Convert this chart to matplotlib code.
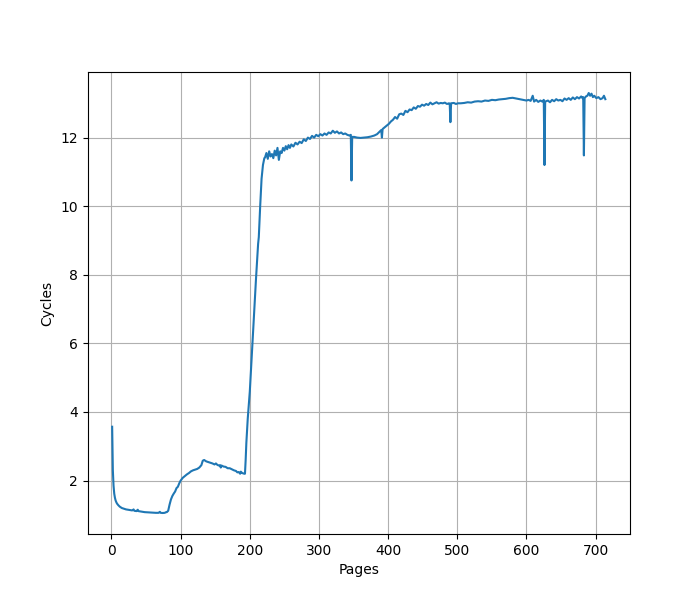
import matplotlib
matplotlib.use("Agg")
import matplotlib.pyplot as plt

pages = [1, 2, 3, 4, 5, 6, 7, 8, 10, 12, 15, 18, 21, 24, 27, 30, 32, 33, 36, 38, 39, 42, 45, 48, 52, 56, 60, 64, 68, 70, 71, 74, 77, 79,
         80, 82, 84, 86, 88, 90, 92, 94, 96, 98, 100, 103, 106, 109, 112, 115, 118, 121, 124, 127, 130, 132, 134, 137, 140, 143, 146, 149,
         151, 153, 155, 157, 158, 159, 162, 165, 168, 171, 174, 177, 180, 182, 184, 186, 187, 189, 192,
         193, 194, 195, 197, 200, 203, 206, 209, 212, 213, 215, 217, 219, 221,
         222, 224, 226, 228, 230, 232, 234, 236, 238, 240, 242, 244, 246, 248, 250, 252, 254, 256, 258, 260, 263, 266, 269, 272, 275, 278,
         281, 284, 287, 290, 293, 296, 299, 302, 305, 308, 311, 314, 317, 320, 323, 326, 329, 332, 335, 338, 341, 344, 346, 347, 348, 351,
         355, 360, 365, 370, 375, 380, 384, 388, 390, 391, 392, 395, 398, 401, 404, 407, 410, 413, 416, 419, 422, 425, 428, 431, 434, 437,
         440, 443, 446, 449, 452, 455, 458, 461, 464, 467, 470, 473, 476, 479, 482, 485, 488, 489, 490, 491, 495, 498, 501, 505, 510, 515,
         520, 525, 530, 535, 540, 545, 550, 555, 560, 565, 570, 575, 580, 585, 590, 595, 600, 603, 606, 609, 611, 614, 617, 620, 623, 625,
         626, 627, 631, 634, 637, 640, 643, 646, 649, 652, 655, 658, 661, 664, 667, 670, 673, 676, 679, 681, 682, 683, 684, 686, 688, 690,
         692, 694, 696, 698, 701, 704, 707, 710, 712, 714]

cycles = [3.57, 2.3, 1.85, 1.62, 1.5, 1.42, 1.37, 1.33, 1.28, 1.24, 1.2, 1.18, 1.16, 1.15, 1.14, 1.13, 1.16, 1.12, 1.11, 1.15, 1.11, 1.10, 1.09, 1.08, 1.075, 1.07, 1.065, 1.06, 1.06, 1.09, 1.06, 1.055, 1.06, 1.08,
          1.08, 1.12, 1.3, 1.45, 1.55, 1.62, 1.68, 1.78, 1.82, 1.92, 2.0, 2.08, 2.13, 2.18, 2.22, 2.27, 2.3, 2.32, 2.34, 2.38, 2.45, 2.58, 2.6, 2.56, 2.54, 2.52, 2.5, 2.47,
          2.5, 2.46, 2.44, 2.45, 2.38, 2.44, 2.41, 2.4, 2.36, 2.36, 2.33, 2.3, 2.28, 2.24, 2.25, 2.2, 2.26, 2.22, 2.2,
          2.2, 2.6, 3.1, 3.8, 4.6, 5.7, 6.8, 7.9, 8.9, 9.1, 10.0, 10.8, 11.2, 11.4,
          11.42, 11.55, 11.38, 11.6, 11.45, 11.52, 11.4, 11.62, 11.48, 11.7, 11.35, 11.6, 11.55, 11.7, 11.62, 11.75, 11.66, 11.78, 11.7, 11.8, 11.74, 11.85, 11.8, 11.88, 11.84, 11.95,
          11.9, 12.0, 11.96, 12.05, 12.0, 12.08, 12.04, 12.1, 12.06, 12.12, 12.08, 12.15, 12.12, 12.2, 12.14, 12.18, 12.12, 12.15, 12.1, 12.12, 12.08, 12.06, 12.08, 10.75, 12.02, 12.02,
          12.0, 11.99, 12.0, 12.01, 12.03, 12.06, 12.1, 12.18, 12.22, 12.0, 12.25, 12.3, 12.35, 12.4, 12.47, 12.52, 12.6, 12.55, 12.68, 12.7, 12.66, 12.78, 12.74, 12.82, 12.8, 12.88,
          12.84, 12.92, 12.9, 12.96, 12.93, 12.98, 12.95, 13.02, 12.97, 13.0, 13.03, 12.99, 13.01, 13.0, 13.02, 12.98, 13.0, 12.99, 12.45, 13.0, 13.01, 12.98, 13.0, 13.0, 13.01, 13.03,
          13.02, 13.05, 13.06, 13.05, 13.08, 13.07, 13.1, 13.09, 13.11, 13.12, 13.13, 13.15, 13.16, 13.14, 13.12, 13.1, 13.08, 13.1, 13.07, 13.22, 13.05, 13.1, 13.04, 13.08, 13.05, 13.1,
          11.2, 13.05, 13.08, 13.03, 13.1, 13.06, 13.12, 13.08, 13.1, 13.06, 13.14, 13.1, 13.15, 13.1, 13.17, 13.12, 13.18, 13.14, 13.2, 13.15, 13.18, 11.48, 13.15, 13.2, 13.22, 13.3,
          13.22, 13.28, 13.18, 13.22, 13.15, 13.18, 13.12, 13.15, 13.22, 13.12]

fig, ax = plt.subplots(figsize=(7, 6), dpi=100)
ax.plot(pages, cycles)
ax.set_xlabel("Pages")
ax.set_ylabel("Cycles")
ax.grid(True)
fig.savefig("out.png")
